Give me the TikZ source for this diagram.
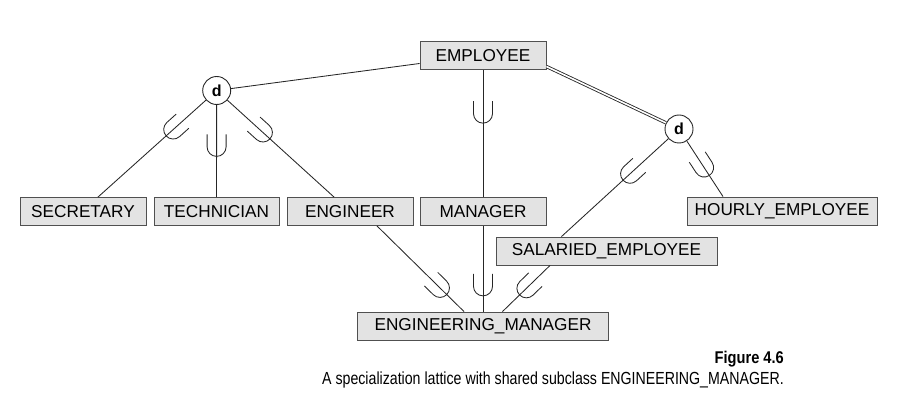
\documentclass[tikz,border=0pt]{standalone}
\usepackage{fontspec}
\setmainfont{Liberation Sans}
\usetikzlibrary{decorations.markings}
\definecolor{boxfill}{HTML}{E3E3E3}
\definecolor{boxline}{HTML}{505050}
\definecolor{lnc}{HTML}{262626}
\tikzset{
  ent/.style={draw=boxline, fill=boxfill, line width=0.9pt, minimum height=28pt, inner sep=0pt, font=\fontsize{17.2}{17.2}\selectfont},
  dcirc/.style={circle, draw=lnc, fill=white, line width=0.9pt, minimum size=28pt, inner sep=0pt, font=\fontsize{16}{16}\selectfont\bfseries},
  conn/.style={draw=lnc, line width=0.85pt},
  subsetat/.style={postaction={decorate, decoration={markings,
      mark=at position #1 with {\draw[lnc, line width=0.85pt] (-12pt,9.5pt) -- (0.5pt,9.5pt) arc (90:-90:9.5pt) -- (-12pt,-9.5pt);}}}}
}
\begin{document}
\begin{tikzpicture}[x=1pt, y=-1pt]
\useasboundingbox (0,0) rectangle (922,403);
% entity boxes
\node[ent, minimum width=126pt] (emp) at (483,55.5) {EMPLOYEE};
\node[ent, minimum width=126pt] (sec) at (83,211.5) {SECRETARY};
\node[ent, minimum width=125pt] (tech) at (216.5,211.5) {TECHNICIAN};
\node[ent, minimum width=126pt] (eng) at (350,211.5) {ENGINEER};
\node[ent, minimum width=126pt] (mgr) at (483,211.5) {MANAGER};
\node[ent, minimum width=190pt] (hr) at (782,211) {HOURLY\_EMPLOYEE};
\node[ent, minimum width=221pt] (sal) at (606.5,251) {SALARIED\_EMPLOYEE};
\node[ent, minimum width=251pt] (em) at (483,326) {ENGINEERING\_MANAGER};
% disjointness circles
\node[dcirc] (d1) at (216.7,90.5) {d};
\node[dcirc] (d2) at (679,129) {d};
% connectors
\draw[conn] ([yshift=-8pt]emp.west) -- (d1);
\draw[lnc, line width=0.85pt, double=white, double distance=1.6pt] ([yshift=-11pt]emp.east) -- (d2);
\draw[conn, subsetat=0.30] (d1) -- ([xshift=15pt]sec.north);
\draw[conn, subsetat=0.45] (d1) -- (tech.north);
\draw[conn, subsetat=0.33] (d1) -- ([xshift=-16pt]eng.north);
\draw[conn, subsetat=0.34] (emp.south) -- (mgr.north);
\draw[conn, subsetat=0.355] (d2) -- ([xshift=-45pt]sal.north);
\draw[conn, subsetat=0.47] (d2) -- ([xshift=-59pt]hr.north);
\draw[conn, subsetat=0.72] ([xshift=27pt]eng.south) -- ([xshift=-19pt]em.north);
\draw[conn, subsetat=0.70] (mgr.south) -- (em.north);
\draw[conn, subsetat=0.49] ([xshift=-56.5pt]sal.south) -- ([xshift=19.5pt]em.north);
% caption
\node[anchor=base east, inner sep=0pt, font=\fontsize{17}{17}\selectfont\bfseries] (figno) at (784,364) {\scalebox{0.86}[1]{Figure 4.6}};
\node[anchor=base east, inner sep=0pt, font=\fontsize{17.5}{17.5}\selectfont] (cap) at (784,385) {\scalebox{0.81}[1]{A specialization lattice with shared subclass ENGINEERING\_MANAGER.}};
\end{tikzpicture}
\end{document}
